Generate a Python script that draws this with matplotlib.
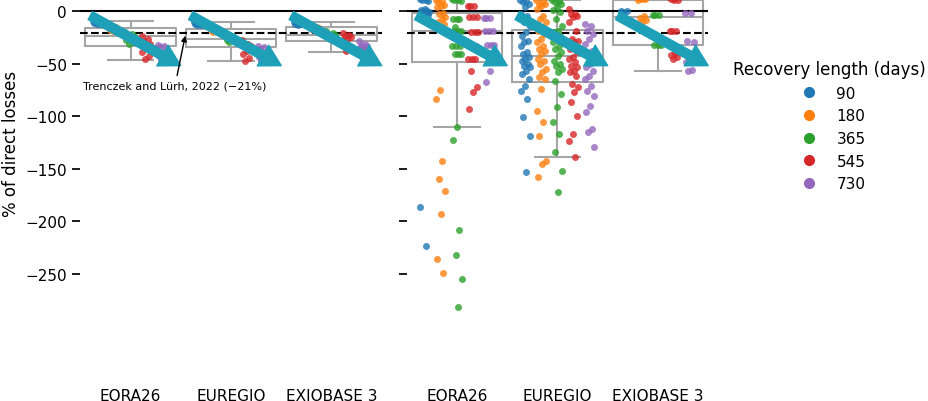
import numpy as np
import matplotlib.pyplot as plt
from matplotlib.lines import Line2D

# categories
models = ['EORA26', 'EUREGIO', 'EXIOBASE 3']
recovery_days = [90, 180, 365, 545, 730]
hue_colors = ['#1f77b4', '#ff7f0e', '#2ca02c', '#d62728', '#9467bd']

# reference value from the literature
ref_value = -21
ref_label = 'Trenczek and Lürh, 2022 (\u221221%)'

# left panel: % of direct losses, one list per recovery length (90 ... 730 days)
left_eora = [
    [-10, -10, -10.5, -11, -11, -11.5, -12, -12],
    [-13, -15, -17, -17, -18, -18, -19, -19],
    [-20, -22, -23, -24, -26, -28, -30, -31],
    [-24, -27, -29, -31, -35, -39, -43, -46],
    [-32, -33, -34, -37, -40, -43, -45, -47],
]
left_euregio = [
    [-11, -11, -11.5, -12, -12, -12.5, -13, -13],
    [-14, -16, -17, -17.5, -18, -18.5, -19, -20],
    [-22, -24, -25, -26, -27, -28, -29, -30],
    [-28, -31, -33, -33, -38, -41, -45, -48],
    [-33, -34, -36, -39, -42, -44, -46, -48],
]
left_exio = [
    [-10.5, -11, -11, -11.5, -12, -12, -12.5, -13],
    [-12, -15, -15, -16, -16, -17, -17, -18],
    [-19, -21, -22.5, -23, -24, -25, -26, -27],
    [-21, -23, -24, -25, -27, -28, -33, -38],
    [-29, -31, -32, -33, -34, -35, -36, -39],
]

# right panel
right_eora = [
    [11, 10, 10, 9, 2, 1, 0, 0, -1, -2, -3, -4, -5, -186, -223],
    [10, 9, 8, 6, 5, 4, -2, -3, -6, -8, -11, -12, -75, -84, -143, -160, -171,
     -193, -236, -249],
    [11, 10, 10, 9, -8, -8, -8, -15, -19, -19, -19, -33, -33, -33, -41, -41, -41,
     -110, -123, -208, -232, -255, -281],
    [5, 5, 5, -6, -6, -6, -20, -20, -20, -33, -33, -33, -46, -46, -46, -57, -72,
     -77, -93],
    [-7, -7, -7, -19, -19, -19, -32, -32, -32, -57, -68],
]
right_euregio = [
    [10, 9.5, 8.3, 6.7, 3.5, -2.9, -4.4, -10.8, -14, -20.2, -23.5, -28.2, -29.8,
     -33, -39.2, -40.9, -44, -45.6, -47.2, -50, -52, -53.5, -56.8, -60, -64.6,
     -71, -75.8, -83.7, -101, -118.6, -153],
    [10.5, 9.8, 7, 6.7, 5, 1.9, -4.4, -7.6, -10.8, -15.5, -18.7, -21.9, -26.6,
     -29.8, -33, -36.1, -37.7, -40.9, -45.6, -48, -50.4, -55.1, -58, -63, -64.6,
     -74.1, -94.8, -105.8, -118.6, -142.3, -145.5, -158.2],
    [10.5, 9.8, 8, 6.7, 3.5, 1, -1.2, -7.6, -14, -18.7, -20.2, -23.5, -26.6,
     -29.8, -33, -36.1, -39.3, -42.5, -47.2, -50, -52, -55.1, -58.3, -66.3,
     -78.9, -91.5, -105.8, -117, -134.3, -151.8, -172.3],
    [2, -2.9, -3, -4.4, -6, -10.8, -18.7, -26.6, -28.2, -29.8, -36.1, -39.3, -44,
     -45.6, -48.8, -52, -53.5, -56.8, -58, -61.6, -69.4, -72.5, -77.3, -86.8,
     -99.4, -117, -123.3, -139],
    [-12.4, -14, -18.7, -21.9, -26.6, -31.4, -37.7, -40.9, -45.6, -50.4, -53,
     -56.8, -61.6, -64.6, -71, -75.8, -80.5, -90, -96.3, -112.2, -115.3, -129.6],
]
right_exio = [
    [0, 0, -1],
    [13, 12, 12, 11, 11, 10, -5, -7, -9, -11],
    [-4, -4, -4, -32, -32, -32],
    [13, 12, 11, 10, 10, -19, -19, -19, -37, -40, -42, -44, -46],
    [-2, -2, -29, -30, -49, -49, -56, -57],
]

panels = [[left_eora, left_euregio, left_exio],
          [right_eora, right_euregio, right_exio]]

box_gray = '#a5a5a5'
arrow_color = '#1ea0b9'


def jitter(n):
    # spread points sideways in a fixed pattern
    return ((np.arange(n) * 0.618034) % 1 - 0.5) * 0.1


fig = plt.figure(figsize=(9.29, 4.02), dpi=100)
ax1 = fig.add_axes([0.0864, 0.0697, 0.3245, 1.1468])
ax2 = fig.add_axes([0.4378, 0.0697, 0.3245, 1.1468], sharey=ax1)

for ax, groups in zip([ax1, ax2], panels):
    pooled = [np.concatenate([np.array(v, float) for v in g]) for g in groups]
    ax.boxplot(pooled, positions=range(len(models)), widths=0.9, capwidths=0.45,
               showfliers=False, zorder=1,
               boxprops=dict(color=box_gray, lw=1.5),
               whiskerprops=dict(color=box_gray, lw=1.5),
               capprops=dict(color=box_gray, lw=1.5),
               medianprops=dict(color=box_gray, lw=1.5))

    for i, g in enumerate(groups):
        for j, vals in enumerate(g):
            x = i + (j - 2) * 0.16 + jitter(len(vals))
            ax.scatter(x, vals, s=25, color=hue_colors[j], alpha=0.8,
                       lw=0, zorder=3)
        # trend arrow
        ax.annotate('', xy=(i + 0.5, -52), xytext=(i - 0.4, -4.5),
                    arrowprops=dict(color=arrow_color, width=6.5, headwidth=17,
                                    headlength=15, shrink=0), zorder=4)

    ax.axhline(0, color='black', lw=1.5, zorder=2)
    ax.axhline(ref_value, color='black', lw=1.5, ls='--', zorder=2)

    ax.set_xlim(-0.5, 2.5)
    ax.set_xticks(range(len(models)))
    ax.set_xticklabels(models, fontsize=11)
    ax.tick_params(axis='x', bottom=False, pad=7)
    ax.tick_params(axis='y', length=6, width=1.25, labelsize=11)
    for s in ax.spines.values():
        s.set_visible(False)

ax1.set_ylim(-344, 94)
ax1.set_yticks([-250, -200, -150, -100, -50, 0])
ax2.tick_params(axis='y', labelleft=False)
ax1.set_ylabel('% of direct losses', fontsize=12)

ax1.annotate(ref_label, xy=(0.55, ref_value), xytext=(-0.47, -71.3),
             fontsize=8, ha='left', va='center', zorder=5,
             arrowprops=dict(arrowstyle='-|>', color='black', lw=1))

handles = [Line2D([], [], marker='o', ls='', color=c, markersize=7)
           for c in hue_colors]
fig.legend(handles, [str(d) for d in recovery_days], title='Recovery length (days)',
           loc='upper left', bbox_to_anchor=(0.7745, 0.882), frameon=False,
           fontsize=11, title_fontsize=12)

fig.savefig('out.png', dpi=100)
